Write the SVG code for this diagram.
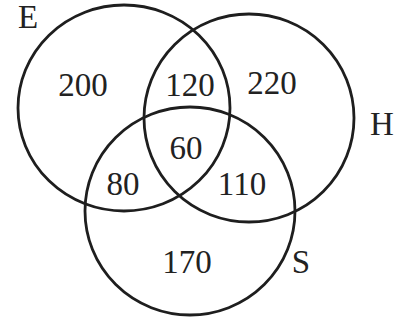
<svg xmlns="http://www.w3.org/2000/svg" width="403" height="320" viewBox="0 0 403 320">
<style>
.c{fill:none;stroke:#1e1e1e;stroke-width:2.8}
text{font-family:"Liberation Serif","Times New Roman",serif;fill:#222;font-size:33px;text-anchor:middle}
</style>
<rect width="403" height="320" fill="#fff"/>
<g id="circles">
<g id="E"><ellipse class="c" cx="124" cy="108" rx="106" ry="103"/><text x="28" y="28" font-size="27">E</text></g>
<g id="H"><ellipse class="c" cx="249" cy="118" rx="105" ry="104"/><text x="382" y="135" font-size="30">H</text></g>
<g id="S"><ellipse class="c" cx="190" cy="211" rx="105" ry="104"/><text x="301" y="273" font-size="30">S</text></g>
</g>
<g id="labels">
<text x="83" y="96">200</text>
<text x="190" y="96">120</text>
<text x="272" y="94">220</text>
<text x="186" y="159">60</text>
<text x="123" y="195">80</text>
<text x="242" y="195">110</text>
<text x="187" y="273">170</text>
</g>
</svg>
